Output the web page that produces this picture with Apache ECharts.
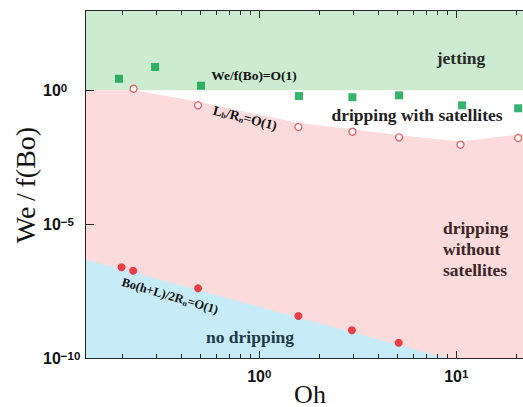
<!DOCTYPE html>
<html>
<head>
<meta charset="utf-8">
<script src="https://cdn.jsdelivr.net/npm/echarts@6/dist/echarts.min.js"></script>
<style>
html,body{margin:0;padding:0;background:#fff;}
#c{width:523px;height:407px;}
</style>
</head>
<body>
<div id="c"></div>
<script>
// ---- axis ranges ----
const ohMin = 0.132, ohMax = 21.8;
const weMin = 1e-10, weMax = 1e3;
const yLabelExps = [-10, -5, 0];
const xLabelExps = [0, 1];
const xMajorTicks = [1, 10];
const yMajorTicks = [1, 1e-5];
const xMinorTicks = [0.2, 0.3, 0.4, 0.5, 0.6, 0.7, 0.8, 0.9, 2, 3, 4, 5, 6, 7, 8, 9, 20];

// ---- measured data ----
// green squares: We/f(Bo)=O(1)
const jetOh = [0.194, 0.296, 0.506, 1.59, 2.97, 5.12, 10.7, 20.6];
const jetWe = [2.71, 7.42, 1.49, 0.61, 0.55, 0.65, 0.275, 0.213];
// open circles: Lb/Rn=O(1)
const satOh = [0.230, 0.489, 1.58, 2.97, 5.12, 10.5, 20.6];
const satWe = [1.15, 0.275, 0.0426, 0.0284, 0.0175, 0.0093, 0.0165];
// filled dots: Bo(h+L)/2Rn=O(1)
const dripOh = [0.200, 0.229, 0.489, 1.58, 2.95, 5.1];
const dripWe = [2.44e-7, 1.82e-7, 4.0e-8, 3.7e-9, 1.08e-9, 3.7e-10];

// region boundaries
const jetBoundOh = [ohMin, ohMax];
const jetBoundWe = [1, 1];
const satBoundOh = [ohMin, 0.232, 0.49, 1.58, 2.96, 5.13, 10.5, ohMax];
const satBoundWe = [1, 1, 0.375, 0.06, 0.0349, 0.0208, 0.0122, 0.0233];
const dripBoundOh = [ohMin, 8.9];
const dripBoundWe = [4.8e-7, 1e-10];

const zip = (a, b) => a.map((v, i) => [v, b[i]]);

const serif = 'Liberation Serif, Times New Roman, serif';
const sans = 'Liberation Sans, Arial, sans-serif';

function expLabel(exps) {
  return function (v) {
    const l = Math.log10(v);
    const e = Math.round(l);
    if (Math.abs(l - e) > 1e-6 || exps.indexOf(e) < 0) return '';
    return '{b|10}{s|' + (e < 0 ? '\u2212' + (-e) : e) + '}';
  };
}
const labelRich = {
  b: {fontFamily: sans, fontWeight: 'bold', fontSize: 16, color: '#111', lineHeight: 16},
  s: {fontFamily: sans, fontWeight: 'bold', fontSize: 11.5, color: '#111', lineHeight: 5, verticalAlign: 'top'}
};

const areaSeries = (data, color) => ({
  type: 'line', data: data, symbol: 'none', silent: true, z: 1,
  lineStyle: {width: 0, opacity: 0},
  areaStyle: {color: color, opacity: 1, origin: 'start'},
  clip: true
});

const chart = echarts.init(document.getElementById('c'), null, {renderer: 'svg'});
chart.setOption({
  animation: false,
  backgroundColor: '#fff',
  grid: {left: 86, right: 0, top: 10, bottom: 49},
  xAxis: [{
    type: 'log', min: ohMin, max: ohMax, position: 'bottom',
    axisLine: {show: false}, axisTick: {show: false},
    axisLabel: {formatter: expLabel(xLabelExps), rich: labelRich, margin: 10, showMinLabel: false, showMaxLabel: false},
    splitLine: {show: false}
  }],
  yAxis: [{
    type: 'log', min: weMin, max: weMax, interval: 5,
    axisLine: {show: false}, axisTick: {show: false},
    axisLabel: {formatter: expLabel(yLabelExps), rich: labelRich, align: 'left', margin: 43},
    splitLine: {show: false}
  }],
  series: [
    areaSeries(zip([ohMin, ohMax], [weMax, weMax]), '#cdebd0'),
    areaSeries(zip(jetBoundOh, jetBoundWe), '#ffffff'),
    areaSeries(zip(satBoundOh, satBoundWe), '#fbdbdb'),
    areaSeries(zip(dripBoundOh, dripBoundWe), '#c8ecf7'),
    {type: 'scatter', z: 8, data: zip(jetOh, jetWe), symbol: 'rect', symbolSize: 8,
      itemStyle: {color: '#05a04a'}},
    {type: 'scatter', z: 8, data: zip(satOh, satWe), symbol: 'circle', symbolSize: 7,
      itemStyle: {color: '#ffffff', borderColor: '#ee3b3b', borderWidth: 1.3}},
    {type: 'scatter', z: 8, data: zip(dripOh, dripWe), symbol: 'circle', symbolSize: 8,
      itemStyle: {color: '#e8161d'}}
  ]
});

// texts
const els = [
  {type: 'text', x: 461, y: 58, style: {text: 'jetting', font: 'bold 17.5px ' + serif, fill: '#2a2a2a', align: 'center', verticalAlign: 'middle'}},
  {type: 'text', x: 254, y: 75, style: {text: 'We/f(Bo)=O(1)', font: 'bold 13.5px ' + serif, fill: '#111', align: 'center', verticalAlign: 'middle'}},
  {type: 'text', x: 417, y: 115, style: {text: 'dripping with satellites', font: 'bold 17.5px ' + serif, fill: '#222', align: 'center', verticalAlign: 'middle'}},
  {type: 'text', x: 443, y: 249, style: {text: 'dripping\nwithout\nsatellites', font: 'bold 17.5px ' + serif, lineHeight: 21, fill: '#3b2626', align: 'left', verticalAlign: 'middle'}},
  {type: 'text', x: 250, y: 337, style: {text: 'no dripping', font: 'bold 17.5px ' + serif, fill: '#1e3a48', align: 'center', verticalAlign: 'middle'}},
  {type: 'text', x: 245, y: 118, rotation: -14 * Math.PI / 180, style: {
    text: '{m|L}{u|b}{m|/R}{u|n}{m|=O(1)}', align: 'center', verticalAlign: 'middle',
    rich: {m: {fontFamily: serif, fontWeight: 'bold', fontSize: 13.5, fill: '#111', lineHeight: 14},
           u: {fontFamily: serif, fontWeight: 'bold', fontSize: 8, fill: '#111', lineHeight: 14, verticalAlign: 'bottom'}}}},
  {type: 'text', x: 170, y: 296, rotation: -16.5 * Math.PI / 180, style: {
    text: '{m|Bo(h+L)/2R}{u|n}{m|=O(1)}', align: 'center', verticalAlign: 'middle',
    rich: {m: {fontFamily: serif, fontWeight: 'bold', fontSize: 12.5, fill: '#111', lineHeight: 14},
           u: {fontFamily: serif, fontWeight: 'bold', fontSize: 8, fill: '#111', lineHeight: 14, verticalAlign: 'bottom'}}}},
  {type: 'text', x: 25, y: 185, rotation: Math.PI / 2, style: {text: 'We\u2009/\u2009f(Bo)', font: '28px ' + serif, fill: '#111', align: 'center', verticalAlign: 'middle'}},
  {type: 'text', x: 310, y: 394, style: {text: 'Oh', font: '26px ' + serif, fill: '#111', align: 'center', verticalAlign: 'middle'}}
];

// axis frame and ticks, drawn as filled bars positioned through the axis scales
const px = (x, y) => chart.convertToPixel({xAxisIndex: 0, yAxisIndex: 0}, [x, y]);
const bl = px(ohMin, weMin), tr = px(ohMax, weMax);
const L = Math.round(bl[0]), B = Math.round(bl[1]), R = Math.round(tr[0]), T = Math.round(tr[1]);
const axisColor = '#262626';
const bar = (x, y, w, h) => ({type: 'rect', shape: {x: x, y: y, width: w, height: h}, style: {fill: axisColor}});
els.push(bar(L - 1, T, 1, B - T + 1));      // left axis
els.push(bar(L - 1, B, R - L + 1, 1));      // bottom axis
els.push(bar(L - 1, T, R - L + 1, 1));      // top axis
xMajorTicks.forEach(function (v) {
  const x = Math.round(px(v, weMin)[0]);
  els.push(bar(x, B - 7, 1, 7));
  els.push(bar(x, T + 1, 1, 7));
});
xMinorTicks.forEach(function (v) {
  const x = Math.round(px(v, weMin)[0]);
  els.push(bar(x, B - 4, 1, 4));
  els.push(bar(x, T + 1, 1, 4));
});
yMajorTicks.forEach(function (v) {
  const y = Math.round(px(ohMin, v)[1]);
  els.push(bar(L, y, 8, 1));
});
els.forEach(e => { e.z = 100; e.silent = true; });
chart.setOption({graphic: {elements: els}});
</script>
</body>
</html>
